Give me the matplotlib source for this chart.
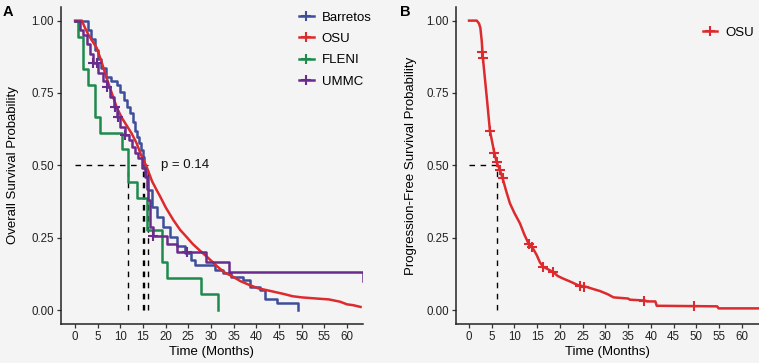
import numpy as np
import matplotlib
matplotlib.use("Agg")
import matplotlib.pyplot as plt
from matplotlib.lines import Line2D

# ---- data (time in months, survival probability) ----
barretos_t = [0, 2.9, 3.6, 4.3, 5.1, 5.8, 6.8, 8.0, 9.2, 10.0, 10.7, 11.5, 12.2, 12.7, 13.2,
              13.6, 14.2, 14.6, 15.0, 15.3, 15.7, 16.2, 16.9, 18.0, 19.5, 21.0, 22.4, 24.3,
              25.7, 26.5, 30.8, 32.7, 34.5, 37.1, 38.6, 40.8, 41.9, 44.5, 49.3]
barretos_s = [1.0, 0.968, 0.935, 0.90, 0.868, 0.836, 0.806, 0.79, 0.778, 0.755, 0.726, 0.703,
              0.68, 0.651, 0.62, 0.599, 0.576, 0.553, 0.53, 0.49, 0.461, 0.415, 0.357, 0.323,
              0.288, 0.253, 0.221, 0.196, 0.173, 0.156, 0.138, 0.127, 0.115, 0.104, 0.081,
              0.069, 0.04, 0.023, 0.0]

# OSU has many events, the curve reads as a smooth line
osu_t = [0, 1.5, 2.2, 3.0, 3.8, 4.8, 5.8, 7.0, 8.1, 9.2, 10.3, 11.5, 12.5, 13.6, 14.6, 15.8,
         17.0, 18.0, 18.8, 20.0, 21.7, 23.2, 24.6, 26.0, 27.6, 29.4, 31.3, 33.0, 34.9, 36.5,
         38.6, 40.5, 42.3, 44.0, 46.0, 48.0, 50.0, 53.3, 56.0, 58.5, 60.0, 61.4, 63.0]
osu_s = [1.0, 1.0, 0.975, 0.95, 0.93, 0.905, 0.86, 0.80, 0.75, 0.70, 0.665, 0.635, 0.61,
         0.576, 0.535, 0.495, 0.445, 0.415, 0.392, 0.355, 0.311, 0.277, 0.253, 0.228, 0.205,
         0.18, 0.152, 0.13, 0.115, 0.10, 0.086, 0.075, 0.069, 0.063, 0.056, 0.048, 0.044,
         0.04, 0.037, 0.029, 0.02, 0.017, 0.011]

fleni_t = [0, 0.7, 1.8, 2.9, 4.4, 5.5, 10.3, 11.6, 13.6, 15.8, 19.3, 20.4, 27.8, 31.5]
fleni_s = [1.0, 0.944, 0.833, 0.778, 0.667, 0.611, 0.556, 0.444, 0.389, 0.278, 0.167, 0.111,
           0.056, 0.0]

ummc_t = [0, 1.2, 1.8, 2.6, 3.3, 4.0, 5.0, 6.2, 7.0, 7.8, 8.5, 9.2, 9.9, 11.0, 11.8, 12.5,
          13.2, 14.0, 14.7, 15.4, 15.8, 16.2, 16.5, 17.3, 20.2, 22.4, 29.0, 34.0, 63.5]
ummc_s = [1.0, 0.967, 0.95, 0.92, 0.885, 0.853, 0.82, 0.79, 0.772, 0.735, 0.70, 0.668, 0.634,
          0.605, 0.588, 0.565, 0.542, 0.524, 0.49, 0.46, 0.42, 0.38, 0.288, 0.255, 0.23, 0.2,
          0.167, 0.133, 0.1]
ummc_cens = [4.0, 4.8, 7.0, 8.9, 9.4, 11.0, 17.3, 24.6]

pfs_t = [0, 1.7, 2.2, 2.5, 2.8, 3.0, 3.5, 4.0, 4.6, 5.6, 6.1, 6.8, 7.4, 8.2, 9.0, 10.0,
         11.2, 12.2, 13.1, 14.0, 14.9, 15.6, 16.3, 17.5, 18.5, 19.5, 20.7, 22.5, 24.0, 25.9,
         27.5, 28.8, 30.5, 31.8, 35.0, 35.4, 38.8, 39.1, 41.0, 41.3, 54.6, 54.9, 63.8]
pfs_s = [1.0, 1.0, 0.99, 0.975, 0.93, 0.88, 0.80, 0.72, 0.62, 0.541, 0.51, 0.484, 0.455,
         0.41, 0.369, 0.335, 0.30, 0.26, 0.23, 0.215, 0.19, 0.165, 0.15, 0.14, 0.132, 0.118,
         0.109, 0.097, 0.086, 0.08, 0.072, 0.066, 0.055, 0.044, 0.04, 0.036, 0.033, 0.03,
         0.03, 0.015, 0.013, 0.006, 0.006]
pfs_cens = [2.95, 3.05, 4.6, 5.6, 6.1, 6.8, 7.4, 13.1, 13.8, 16.3, 18.5, 24.4, 25.4, 38.6, 49.5]

medians_os = [11.6, 14.9, 15.3, 16.1]
median_pfs = 6.1
p_text = "p = 0.14"

groups = ["Barretos", "OSU", "FLENI", "UMMC"]
colors = {"Barretos": "#3D4E9A", "OSU": "#DC2A2E", "FLENI": "#1E8A4C", "UMMC": "#6A2C8C"}

BG = "#f4f4f4"
plt.rcParams['font.family'] = ['Liberation Sans', 'DejaVu Sans']


def surv_at(t, s, x, steps=True):
    # value of the curve at time x
    if steps:
        i = np.searchsorted(np.array(t), x, side='right') - 1
        return np.array(s)[i]
    return np.interp(x, t, s)


def style_axis(ax, xmin, xmax):
    ax.set_facecolor(BG)
    ax.set_xlim(xmin, xmax)
    ax.set_ylim(-0.048, 1.047)
    ax.set_xticks(np.arange(0, 61, 5))
    ax.set_yticks([0, 0.25, 0.5, 0.75, 1.0])
    ax.set_yticklabels(["0.00", "0.25", "0.50", "0.75", "1.00"])
    for side in ["top", "right"]:
        ax.spines[side].set_visible(False)
    for side in ["left", "bottom"]:
        ax.spines[side].set_linewidth(1.1)
        ax.spines[side].set_color("#222222")
    ax.tick_params(length=3, width=0.9, color="#333333", labelsize=8.3,
                   labelcolor="#222222", pad=2)
    ax.set_xlabel("Time (Months)", fontsize=9.5, labelpad=2)


fig = plt.figure(figsize=(7.59, 3.63), dpi=100, facecolor=BG)
axA = fig.add_axes([0.0804, 0.1074, 0.3976, 0.8733])
axB = fig.add_axes([0.6008, 0.1074, 0.3992, 0.8733])

# ---- panel A: overall survival ----
style_axis(axA, -3.09, 63.5)

# median lines
axA.plot([0, max(medians_os)], [0.5, 0.5], ls=(0, (4, 4)), color="black", lw=1)
for m in medians_os:
    axA.plot([m, m], [0, 0.5], ls=(0, (4, 4)), color="black", lw=1)

axA.step(barretos_t, barretos_s, where='post', color=colors["Barretos"], lw=1.8)
axA.step(fleni_t, fleni_s, where='post', color=colors["FLENI"], lw=1.8)
axA.plot(osu_t, osu_s, color=colors["OSU"], lw=1.8)
axA.step(ummc_t, ummc_s, where='post', color=colors["UMMC"], lw=1.8)

ys = [surv_at(ummc_t, ummc_s, c) for c in ummc_cens]
axA.plot(ummc_cens, ys, ls='none', marker='+', ms=7, mew=1.5, color=colors["UMMC"])

axA.text(19.0, 0.5, p_text, fontsize=9.5, va='center', ha='left', color="#111111")
axA.set_ylabel("Overall Survival Probability", fontsize=9.5, labelpad=9)

handles = [Line2D([], [], color=colors[g], lw=1.8, marker='+', ms=7, mew=1.5) for g in groups]
axA.legend(handles, groups, loc='upper left', bbox_to_anchor=(0.75, 1.024), frameon=False,
           fontsize=9.5, handlelength=1.1, handletextpad=0.6, labelspacing=0.7)

# ---- panel B: progression-free survival ----
style_axis(axB, -2.86, 63.8)
axB.plot([0, median_pfs], [0.5, 0.5], ls=(0, (4, 4)), color="black", lw=1)
axB.plot([median_pfs, median_pfs], [0, 0.5], ls=(0, (4, 4)), color="black", lw=1)
axB.plot(pfs_t, pfs_s, color=colors["OSU"], lw=1.8)
ys = [surv_at(pfs_t, pfs_s, c, steps=False) for c in pfs_cens]
axB.plot(pfs_cens, ys, ls='none', marker='+', ms=7, mew=1.5, color=colors["OSU"])
axB.set_ylabel("Progression-Free Survival Probability", fontsize=9.5, labelpad=7)
axB.legend([Line2D([], [], color=colors["OSU"], lw=1.8, marker='+', ms=7, mew=1.5)], ["OSU"],
           loc='upper left', bbox_to_anchor=(0.775, 0.975), frameon=False, fontsize=9.5,
           handlelength=1.1, handletextpad=0.6)

# panel letters
fig.text(0.004, 0.985, "A", fontsize=10.5, fontweight='bold', va='top', ha='left')
fig.text(0.527, 0.985, "B", fontsize=10.5, fontweight='bold', va='top', ha='left')

fig.savefig("out.png", dpi=100, facecolor=BG)
